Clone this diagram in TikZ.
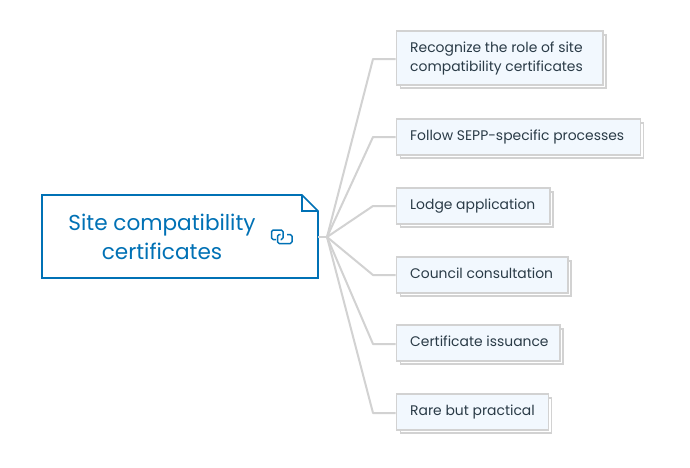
\documentclass[tikz,border=0pt]{standalone}
\usepackage{fontspec}
\setmainfont{Poppins}
\definecolor{rootblue}{HTML}{0071B5}
\definecolor{linegray}{HTML}{D2D2D2}
\definecolor{boxfill}{HTML}{F2F8FE}
\definecolor{boxtext}{HTML}{2A3B47}
\tikzset{
  x=1pt,y=-1pt,
  conn/.style={draw=linegray,line width=2pt,line join=round},
  childbox/.style={draw=linegray,line width=1.6pt,fill=boxfill,anchor=north west,minimum height=35pt,inner sep=0pt},
  shadowbox/.style={draw=linegray,line width=1.6pt,fill=white},
  rootline/.style={draw=rootblue,line width=1.6pt,line join=miter},
  lab/.style={anchor=base west,text=boxtext,font=\fontsize{13.9}{19}\selectfont,align=left,inner sep=0pt},
  iconline/.style={draw=rootblue,line width=1.5pt,line join=round,rounded corners=1.6pt},
}
\begin{document}
\begin{tikzpicture}
\useasboundingbox (0,0) rectangle (690,467);
\fill[white] (0,0) rectangle (690,467);
% root
\path[rootline,fill=white] (42,195) -- (302,195) -- (318,211) -- (318,278) -- (42,278) -- cycle;
\draw[rootline] (302,195) -- (302,211) -- (318,211);
\node[font=\fontsize{21.6}{29}\selectfont,text=rootblue,align=center] (root) at (162,236.5) {Site compatibility\\certificates};
\coordinate (rootout) at (318,237);
\coordinate (hub) at (327,237);
% shadows
\draw[shadowbox] (400.5,35) rectangle (606,88);
\draw[shadowbox] (400.5,123) rectangle (643.5,158);
\draw[shadowbox] (400.5,192) rectangle (553,227);
\draw[shadowbox] (400.5,261) rectangle (571,296);
\draw[shadowbox] (400.5,329) rectangle (563,364);
\draw[shadowbox] (400.5,398) rectangle (551.5,433);
% connector bends
\coordinate (b1) at (373,59);
\coordinate (b2) at (373,137);
\coordinate (b3) at (373,206);
\coordinate (b4) at (373,275);
\coordinate (b5) at (373,344);
\coordinate (b6) at (373,413);
% children
\node[childbox,minimum width=206.5pt,minimum height=54pt] (c1) at (395.7,30.2) {};
\node[childbox,minimum width=244pt,minimum height=36pt] (c2) at (395.7,118.2) {};
\node[childbox,minimum width=153.5pt,minimum height=36pt] (c3) at (395.7,187.2) {};
\node[childbox,minimum width=171.5pt,minimum height=36pt] (c4) at (395.7,256.2) {};
\node[childbox,minimum width=163.5pt,minimum height=36pt] (c5) at (395.7,324.2) {};
\node[childbox,minimum width=152pt,minimum height=36pt] (c6) at (395.7,393.2) {};
% labels
\node[lab,anchor=west] (t1) at (410,58) {Recognize the role of site\\compatibility certificates};
\node[lab] (t2) at (410,140) {Follow SEPP-specific processes};
\node[lab] (t3) at (410,209) {Lodge application};
\node[lab] (t4) at (410,278) {Council consultation};
\node[lab] (t5) at (410,346.5) {Certificate issuance};
\node[lab] (t6) at (410,415.5) {Rare but practical};
% connectors
\draw[conn] (rootout) -- (hub);
\draw[conn] (hub) -- (b1) -- (b1 -| c1.west);
\draw[conn] (hub) -- (b2) -- (b2 -| c2.west);
\draw[conn] (hub) -- (b3) -- (b3 -| c3.west);
\draw[conn] (hub) -- (b4) -- (b4 -| c4.west);
\draw[conn] (hub) -- (b5) -- (b5 -| c5.west);
\draw[conn] (hub) -- (b6) -- (b6 -| c6.west);
% link icon
\draw[iconline] (276,239.5) -- (271.5,239.5) -- (271.5,230) -- (283,230) -- (283,239.5) -- (280.5,239.5);
\draw[iconline] (280.5,234.5) -- (277.5,234.5) -- (277.5,243.5) -- (292,243.5) -- (292,234.5) -- (287,234.5);
\end{tikzpicture}
\end{document}
